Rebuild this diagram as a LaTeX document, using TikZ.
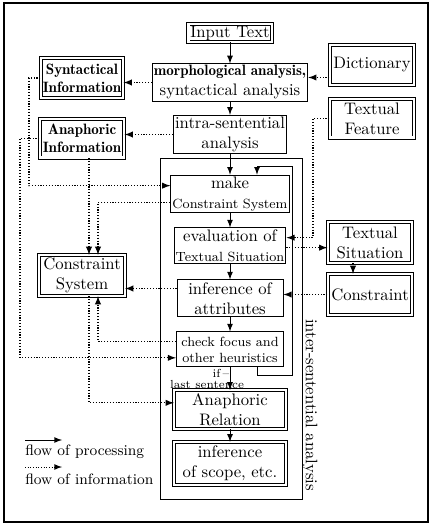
\documentclass[tikz,border=0pt]{standalone}
\usetikzlibrary{positioning}

\tikzset{
  proc/.style={draw, line width=0.6pt, align=center, inner sep=1pt},
  store/.style={draw, double, line width=0.5pt, double distance=1.4pt, align=center, inner sep=1pt},
  info/.style={->, densely dotted, line width=0.7pt},
}

\begin{document}
\begin{tikzpicture}[x=0.6pt, y=-0.6pt, >=latex, node distance=31.2pt, on grid]
    \useasboundingbox (0,0) rectangle (432,526);
    \draw[line width=0.8pt] (4,3) rectangle (428,522);

    % processing column
    \node[store, minimum width=50pt, minimum height=9.3pt] (input) at (230,33) {Input Text};
    \node[proc, minimum width=89.4pt, minimum height=21pt] (morph) [below=29.7pt of input] {{\small\fontseries{b}\selectfont morphological analysis,}\\syntactical analysis};
    \node[proc, minimum width=64.2pt, minimum height=21pt] (intra) [below=31.2pt of morph] {intra-sentential\\analysis};
    \node[draw, line width=0.6pt, minimum width=85.2pt, minimum height=204pt] (interbox) at (231,329) {};
    \node[proc, minimum width=66pt, minimum height=21.6pt] (make) [below=35.7pt of intra] {make\\{\footnotesize Constraint System}};
    \node[proc, minimum width=63.6pt, minimum height=21.6pt] (eval) [below=31.2pt of make] {evaluation of\\{\footnotesize Textual Situation}};
    \node[proc, minimum width=63.6pt, minimum height=22.2pt] (infer) [below=31.5pt of eval] {inference of\\attributes};
    \node[proc, font=\footnotesize, minimum width=64.2pt, minimum height=21pt] (check) [below=30.6pt of infer] {check focus and\\other heuristics};
    \node[store, minimum width=66.9pt, minimum height=23pt] (ar) [below=36pt of check] {Anaphoric\\Relation};
    \node[store, minimum width=66.9pt, minimum height=25.5pt] (scope) [below=32.4pt of ar] {inference\\of scope, etc.};
    \node[rotate=-90] (interlbl) at (310,405) {inter-sentential analysis};

    % stores on the left
    \node[store, font=\small\fontseries{b}\selectfont, minimum width=49.5pt, minimum height=23.7pt] (syn) at (82,78) {Syntactical\\Information};
    \node[store, font=\small\fontseries{b}\selectfont, minimum width=50.7pt, minimum height=23pt] (ana) [below=36.3pt of syn] {Anaphoric\\Information};
    \node[store, minimum width=51.3pt, minimum height=24.3pt] (cs) at (82,275.5) {Constraint\\System};

    % stores on the right
    \node[store, minimum width=50.7pt, minimum height=23.7pt] (dict) at (372,65) {Dictionary};
    \node[store, minimum width=50.7pt, minimum height=23pt] (tf) [below=32.1pt of dict] {Textual\\Feature};
    \node[store, minimum width=50.7pt, minimum height=24.3pt] (ts) at (370,242.5) {Textual\\Situation};
    \node[store, minimum width=50.7pt, minimum height=24.3pt] (con) [below=31.2pt of ts] {Constraint};

    % labels
    \node[font=\scriptsize, anchor=east, inner sep=0pt] (iflbl) at (229.5,373) {if\,--};
    \node[font=\scriptsize, inner sep=0pt] (lastlbl) at (207,385) {last sentence};

    % flow of processing
    \path[->, line width=0.6pt]
    (input) edge (morph)
    (morph) edge (intra)
    (intra) edge (make)
    (make) edge (eval)
    (eval) edge (infer)
    (infer) edge (check)
    (check) edge (ar)
    (ar) edge (scope);

    \coordinate (lx) at (257,0);
    \coordinate (lb) at (292,375);
    \coordinate (lt) at (292,167);
    \draw[->, line width=0.6pt] (check.south -| lx) |- (lb) |- (lt) -| (make.north -| lx);

    % flow of information
    \coordinate (colA) at (89,0);
    \coordinate (colB) at (98,0);
    \coordinate (colL1) at (29,0);
    \coordinate (colL2) at (20,0);
    \coordinate (colR) at (313,0);
    \coordinate (colT) at (353,0);
    \coordinate (dictin) at ([yshift=3pt]morph.east);

    \draw[info] (morph.west) -- (morph.west -| syn.east);
    \draw[info] (dictin -| dict.west) -- (dictin);
    \draw[info] (intra.west) -- (intra.west -| ana.east);
    \draw[info] (syn.west) -- (syn.west -| colL1) |- ([yshift=5pt]make.west);
    \draw[info] (ana.west) -- (ana.west -| colL2) |- ([yshift=-5pt]check.west);
    \draw[info] (ana.south -| colA) -- (cs.north -| colA);
    \draw[info] ([yshift=-5pt]make.west) -| (cs.north -| colB);
    \draw[info] ([yshift=6pt]infer.west) -- ([yshift=6pt]infer.west -| cs.east);
    \draw[info] ([yshift=5pt]check.west) -| (cs.south -| colB);
    \draw[info] (cs.south -| colA) |- ([yshift=4pt]ar.west);
    \draw[info] (tf.west) -- (tf.west -| colR) |- ([yshift=5pt]eval.east);
    \draw[info] ([yshift=-1pt]eval.east) -- ([yshift=-1pt]eval.east -| ts.west);
    \draw[info] (ts.south -| colT) -- (con.north -| colT);
    \draw[info] (con.west) -- (con.west -| infer.east);

    % legend
    \coordinate (lg1) at (25,440);
    \coordinate (lg2) at (62,440);
    \coordinate (lg3) at (25,467);
    \coordinate (lg4) at (62,467);
    \draw[->, line width=0.6pt] (lg1) -- (lg2);
    \draw[info, line width=0.6pt] (lg3) -- (lg4);
    \node[font=\small, anchor=west, inner sep=0pt] (lgproc) at (25,452) {flow of processing};
    \node[font=\small, anchor=west, inner sep=0pt] (lginfo) at (25,479) {flow of information};
\end{tikzpicture}
\end{document}
